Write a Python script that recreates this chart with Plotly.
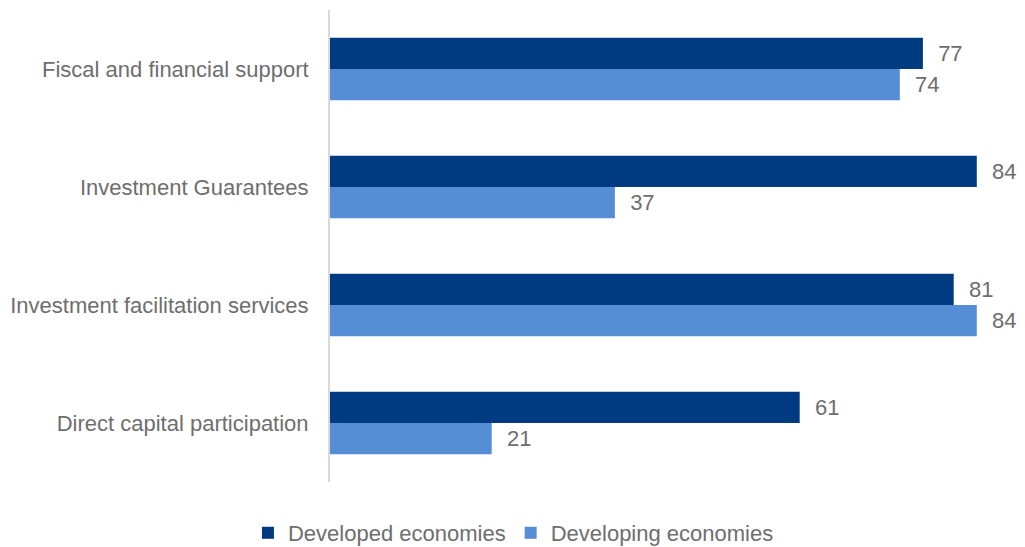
import plotly.graph_objects as go

categories = ["Fiscal and financial support", "Investment Guarantees",
              "Investment facilitation services", "Direct capital participation"]
developed = [77, 84, 81, 61]
developing = [74, 37, 84, 21]

FONT = dict(family="Liberation Sans, Arial, sans-serif", color="#6E6E6E", size=22)

pad = "\u00a0\u00a0"

fig = go.Figure()
fig.add_trace(go.Bar(
    name="Developed economies", y=categories, x=developed, orientation="h",
    marker=dict(color="#003A80", line=dict(width=0)),
    text=[pad + str(v) for v in developed], textposition="outside",
    textfont=FONT, cliponaxis=False,
))
fig.add_trace(go.Bar(
    name="Developing economies", y=categories, x=developing, orientation="h",
    marker=dict(color="#558ED5", line=dict(width=0)),
    text=[pad + str(v) for v in developing], textposition="outside",
    textfont=FONT, cliponaxis=False,
))

# page body has an 8px margin, so the figure is sized to fit the window
fig.update_layout(
    barmode="group",
    bargap=0.47,
    bargroupgap=0,
    width=1017, height=539,
    margin=dict(l=322, r=2, t=2, b=65, autoexpand=False),
    paper_bgcolor="white", plot_bgcolor="white",
    font=FONT,
    legend=dict(orientation="h", xref="container", x=0.497, xanchor="center",
                yref="container", y=0.026, yanchor="middle",
                traceorder="normal", font=FONT),
    showlegend=True,
)
fig.update_xaxes(range=[0, 90], visible=False)
fig.update_yaxes(
    autorange="reversed", showline=True, linecolor="#D9D9D9", linewidth=2,
    ticks="", ticklabelstandoff=15, showgrid=False, tickfont=FONT,
)

fig.write_html("out.html")
